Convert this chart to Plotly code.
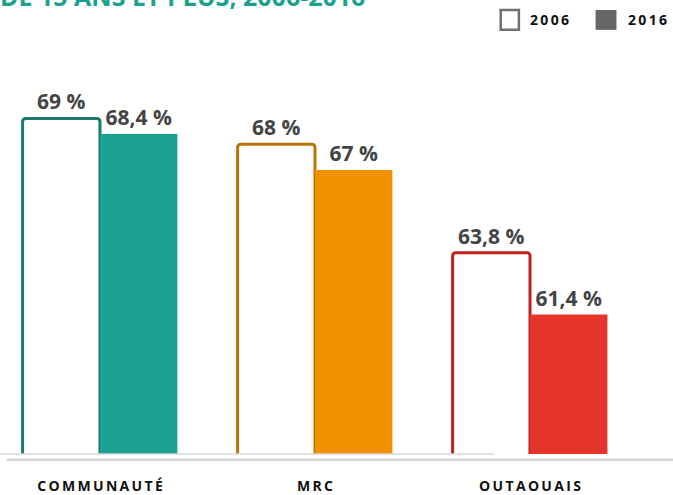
import plotly.graph_objects as go

categories = ["COMMUNAUTÉ", "MRC", "OUTAOUAIS"]
values_2006 = [69, 68, 63.8]
values_2016 = [68.4, 67, 61.4]
labels_2006 = ["69 %", "68 %", "63,8 %"]
labels_2016 = ["68,4 %", "67 %", "61,4 %"]
years = ["2006", "2016"]
title_text = "DE 15 ANS ET PLUS, 2006-2016"

outline_colors = ["#1b7a6d", "#b97408", "#bf211e"]
fill_colors = ["#1aa190", "#f19100", "#e5352b"]


def spaced(s):
    return "\u2009".join(s)


x = list(range(len(categories)))

fig = go.Figure()
fig.add_trace(go.Bar(
    x=x, y=values_2006, name=years[0],
    marker=dict(color="white", line=dict(color=outline_colors, width=3), cornerradius=3),
    text=labels_2006, textposition="outside", cliponaxis=False,
    textfont=dict(family="Open Sans", size=21, color="#444444", weight="bold"),
))
fig.add_trace(go.Bar(
    x=x, y=values_2016, name=years[1],
    marker=dict(color=fill_colors, line=dict(width=0)),
    text=labels_2016, textposition="outside", cliponaxis=False,
    textfont=dict(family="Open Sans", size=21, color="#444444", weight="bold"),
))

# baseline lines
fig.add_shape(type="line", xref="paper", yref="paper", x0=0, x1=0.735, y0=0, y1=0,
              line=dict(color="#d9d9d9", width=1.5))
fig.add_shape(type="line", xref="paper", yref="paper", x0=0.01, x1=1, y0=-0.014, y1=-0.014,
              line=dict(color="#d6d6d6", width=2.5))

# legend
fig.add_shape(type="rect", xref="paper", yref="paper", x0=0.744, x1=0.771, y0=1.027, y1=1.075,
              line=dict(color="#707070", width=2.5), fillcolor="white")
fig.add_shape(type="rect", xref="paper", yref="paper", x0=0.885, x1=0.916, y0=1.027, y1=1.075,
              line=dict(width=0), fillcolor="#666666")
fig.add_annotation(xref="paper", yref="paper", x=0.785, y=1.051, xanchor="left", yanchor="middle",
                   text=spaced(years[0]), showarrow=False,
                   font=dict(family="Open Sans", size=14, color="#111111", weight="bold"))
fig.add_annotation(xref="paper", yref="paper", x=0.93, y=1.051, xanchor="left", yanchor="middle",
                   text=spaced(years[1]), showarrow=False,
                   font=dict(family="Open Sans", size=14, color="#111111", weight="bold"))

# cut-off title
fig.add_annotation(xref="paper", yref="paper", x=-0.003, y=1.108, xanchor="left", yanchor="middle",
                   text=title_text, showarrow=False,
                   font=dict(family="Open Sans", size=25, color="#1aa190", weight="bold"))

fig.update_layout(
    width=673, height=495,
    margin=dict(l=0, r=0, t=41, b=38),
    barmode="group", bargap=0.28, bargroupgap=0,
    plot_bgcolor="white", paper_bgcolor="white",
    showlegend=False,
    xaxis=dict(range=[-0.465, 2.665], tickvals=x, ticktext=[spaced(c) for c in categories],
               showgrid=False, zeroline=False, showline=False, ticks="",
               ticklabelstandoff=22,
               tickfont=dict(family="Open Sans", size=14, color="#111111", weight="bold")),
    yaxis=dict(range=[56, 72], visible=False),
)

fig.write_html("out.html", config={"displayModeBar": False},
               post_script="document.body.style.margin='0';")
